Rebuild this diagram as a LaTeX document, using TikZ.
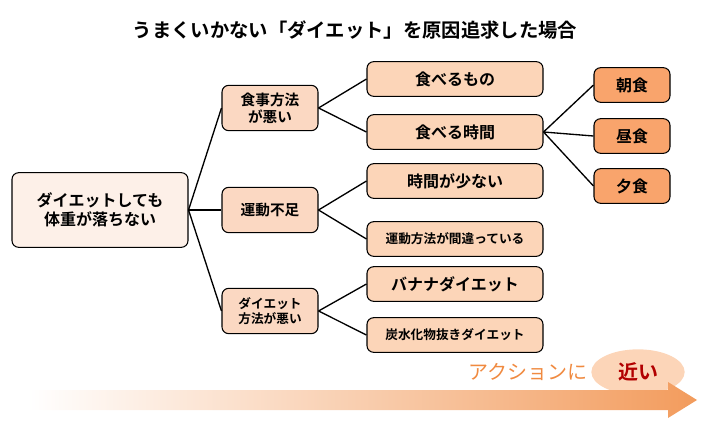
\documentclass[tikz,border=0pt]{standalone}
\usepackage{fontspec}
\setmainfont{Noto Sans CJK JP}[BoldFont={Noto Sans CJK JP Bold}]
\usetikzlibrary{shapes.geometric}
\begin{document}
\begin{tikzpicture}[x=0.75pt,y=-0.75pt,
 box/.style={draw,line width=0.8pt,rounded corners=5pt,align=center,font=\bfseries\fontsize{12}{14}\selectfont,inner sep=1pt},
 mid/.style={box,fill=midc,minimum width=72pt,minimum height=34pt,font=\bfseries\fontsize{11}{12.5}\selectfont},
 leaf/.style={box,fill=leafc,minimum width=132pt,minimum height=26pt,font=\bfseries\fontsize{12}{14}\selectfont},
 meal/.style={box,fill=mealc,minimum width=57pt,minimum height=26pt},
 ln/.style={line width=1pt}]
\definecolor{rootc}{HTML}{FDF0E8}
\definecolor{midc}{HTML}{FBD8C2}
\definecolor{leafc}{HTML}{FCD5B8}
\definecolor{mealc}{HTML}{F9A46C}
\definecolor{orc}{HTML}{F08A40}
\useasboundingbox (0,0) rectangle (709,432);
\node[font=\bfseries\fontsize{14.5}{16}\selectfont] (title) at (355,30) {うまくいかない「ダイエット」を原因追求した場合};
\node[box,fill=rootc,minimum width=132pt,minimum height=56pt] (root) at (100,210) {ダイエットしても\\体重が落ちない};
\node[mid] (m1) at (270,108) {食事方法\\が悪い};
\node[mid] (m2) at (270,210) {運動不足};
\node[mid,font=\bfseries\fontsize{9.5}{11.5}\selectfont] (m3) at (270,311) {ダイエット\\方法が悪い};
\node[leaf] (l1) at (455,79) {食べるもの};
\node[leaf] (l2) at (455,132) {食べる時間};
\node[leaf] (l3) at (455,181) {時間が少ない};
\node[leaf,font=\bfseries\fontsize{9.5}{12}\selectfont] (l4) at (455,239) {運動方法が間違っている};
\node[leaf] (l5) at (455,284) {バナナダイエット};
\node[leaf,font=\bfseries\fontsize{9.5}{12}\selectfont] (l6) at (455,335) {炭水化物抜きダイエット};
\node[meal] (a1) at (632,85) {朝食};
\node[meal] (a2) at (632,136) {昼食};
\node[meal] (a3) at (632,186) {夕食};
\foreach \m in {m1,m2,m3} \draw[ln] (root.east) -- (\m.west);
\draw[ln] (m1.east) -- (l1.west); \draw[ln] (m1.east) -- (l2.west);
\draw[ln] (m2.east) -- (l3.west); \draw[ln] (m2.east) -- (l4.west);
\draw[ln] (m3.east) -- (l5.west); \draw[ln] (m3.east) -- (l6.west);
\foreach \a in {a1,a2,a3} \draw[ln] (l2.east) -- (\a.west);
\node[ellipse,fill=leafc,minimum width=70pt,minimum height=34pt] (el) at (638,372) {};
\shade[left color=white,right color=orc!85] (28,390) -- (668,390) -- (668,382) -- (697,400) -- (668,418) -- (668,410) -- (28,410) -- cycle;
\node[font=\fontsize{15}{17}\selectfont,text=orc,anchor=east] (ac) at (592,372) {アクションに};
\node[font=\bfseries\fontsize{15}{17}\selectfont,text=red!70!black] (near) at (638,372) {近い};
\end{tikzpicture}
\end{document}
